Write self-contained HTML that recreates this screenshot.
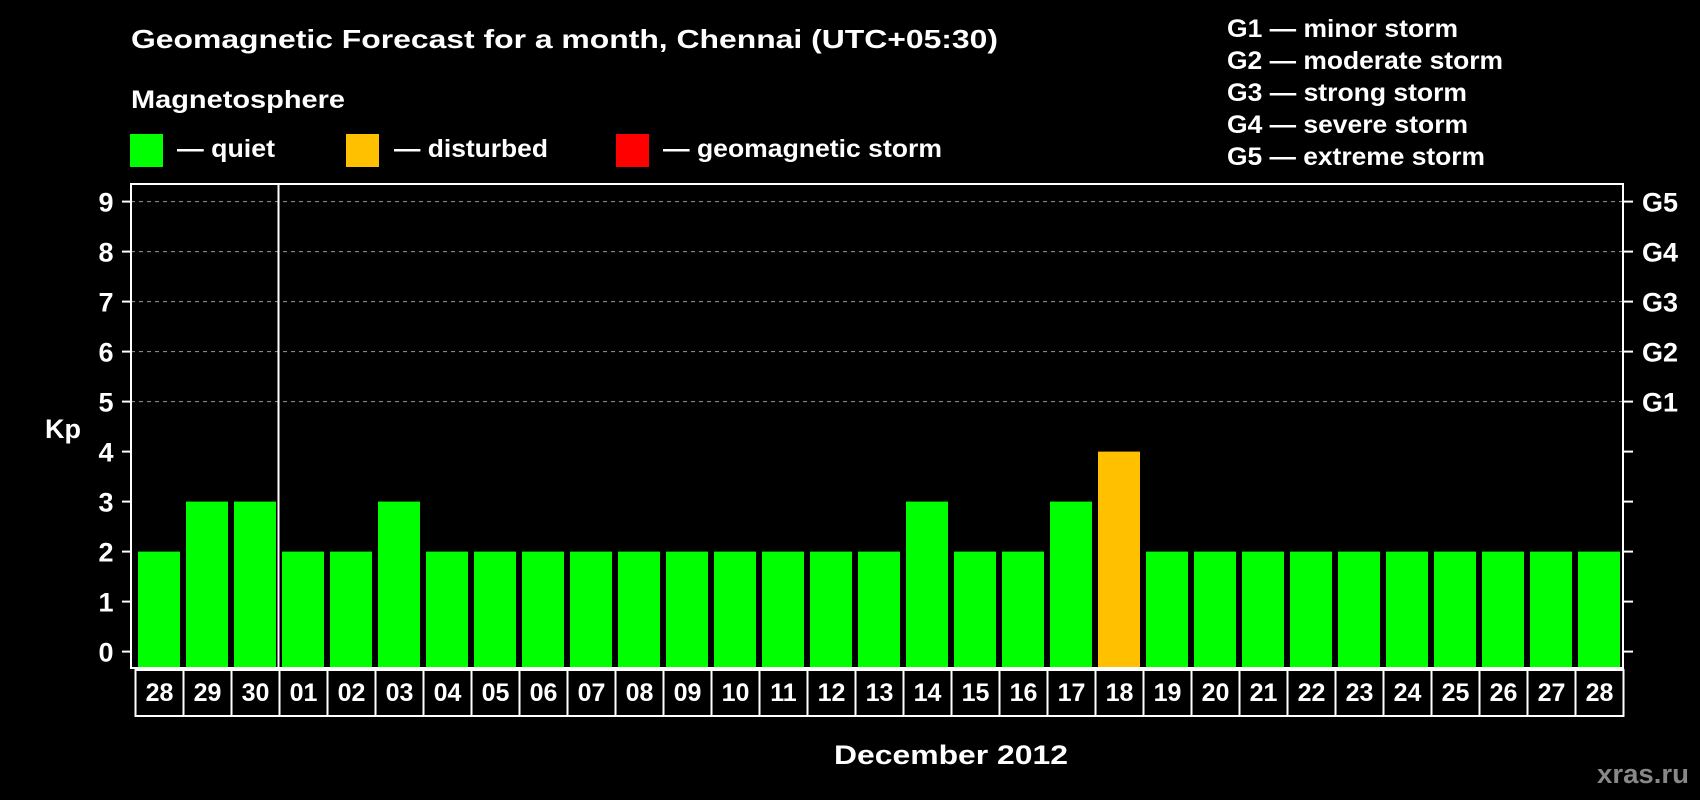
<!DOCTYPE html>
<html><head><meta charset="utf-8"><style>
html,body{margin:0;padding:0;background:#000;}
svg{display:block;font-family:"Liberation Sans",Arial,sans-serif;font-weight:bold;}
</style></head><body>
<svg id="chart" width="1700" height="800" viewBox="0 0 1700 800">
<text x="131" y="48" fill="#fff" font-size="26" textLength="867" lengthAdjust="spacingAndGlyphs">Geomagnetic Forecast for a month, Chennai (UTC+05:30)</text>
<text x="131" y="108" fill="#fff" font-size="25" textLength="214" lengthAdjust="spacingAndGlyphs">Magnetosphere</text>
<g><rect x="130" y="134" width="33" height="33" fill="#00ff00"/><text x="177" y="157" fill="#fff" font-size="25" textLength="98" lengthAdjust="spacingAndGlyphs">— quiet</text></g>
<g><rect x="346" y="134" width="33" height="33" fill="#ffc000"/><text x="394" y="157" fill="#fff" font-size="25" textLength="154" lengthAdjust="spacingAndGlyphs">— disturbed</text></g>
<g><rect x="616" y="134" width="33" height="33" fill="#ff0000"/><text x="663" y="157" fill="#fff" font-size="25" textLength="279" lengthAdjust="spacingAndGlyphs">— geomagnetic storm</text></g>
<g fill="#fff" font-size="25">
<text x="1227" y="37" textLength="231" lengthAdjust="spacingAndGlyphs">G1 — minor storm</text>
<text x="1227" y="69" textLength="276" lengthAdjust="spacingAndGlyphs">G2 — moderate storm</text>
<text x="1227" y="101" textLength="240" lengthAdjust="spacingAndGlyphs">G3 — strong storm</text>
<text x="1227" y="133" textLength="241" lengthAdjust="spacingAndGlyphs">G4 — severe storm</text>
<text x="1227" y="165" textLength="258" lengthAdjust="spacingAndGlyphs">G5 — extreme storm</text>
</g>
<g id="grid"></g>
<g id="bars"></g>
<rect x="131" y="184" width="1492" height="484" fill="none" stroke="#fff" stroke-width="2"/>
<line x1="278.5" y1="184" x2="278.5" y2="668" stroke="#fff" stroke-width="2"/>
<g id="yaxis"></g>
<g id="xaxis"></g>
<text x="63" y="438" fill="#fff" font-size="27" text-anchor="middle">Kp</text>
<text x="951" y="764" fill="#fff" font-size="27" text-anchor="middle" textLength="234" lengthAdjust="spacingAndGlyphs">December 2012</text>
<text x="1597" y="783" fill="#888" font-size="27" textLength="92" lengthAdjust="spacingAndGlyphs">xras.ru</text>
</svg>
<script>
const days = ["28","29","30","01","02","03","04","05","06","07","08","09","10","11","12","13","14","15","16","17","18","19","20","21","22","23","24","25","26","27","28"];
const kpValues = [2,3,3,2,2,3,2,2,2,2,2,2,2,2,2,2,3,2,2,3,4,2,2,2,2,2,2,2,2,2,2];
const yTicks = [0,1,2,3,4,5,6,7,8,9];
const gLabels = ["G1","G2","G3","G4","G5"];
const NS="http://www.w3.org/2000/svg";
const x0=135.5, pitch=48, yZero=651.6, unit=50.0, plotBottom=668;
const yS=v=>yZero-v*unit;
const xS=i=>x0+i*pitch;
function mk(t,a){const e=document.createElementNS(NS,t);for(const k in a)e.setAttribute(k,a[k]);return e;}
const grid=document.getElementById('grid'),bars=document.getElementById('bars'),ya=document.getElementById('yaxis'),xa=document.getElementById('xaxis');
yTicks.forEach(v=>{
  const y=yS(v);
  if(v>=5){const l=mk('line',{x1:131,x2:1623,y1:y,y2:y,stroke:'#999','stroke-width':1,'stroke-dasharray':'4,4'});
  
  grid.appendChild(l);}
  const t1=mk('line',{x1:122,x2:131,y1:y,y2:y,stroke:'#fff','stroke-width':2});
  
  ya.appendChild(t1);
  const t2=mk('line',{x1:1623,x2:1633,y1:y,y2:y,stroke:'#fff','stroke-width':2});
  
  ya.appendChild(t2);
  const tx=mk('text',{x:106,y:y+10,fill:'#fff','font-size':27,'text-anchor':'middle'});tx.textContent=v;
  
  ya.appendChild(tx);
  if(v>=5){const g=mk('text',{x:1642,y:y+10,fill:'#fff','font-size':27});g.textContent=gLabels[v-5];
  
  ya.appendChild(g);}
});
kpValues.forEach((v,i)=>{
  const c=v>=5?'#ff0000':(v>=4?'#ffc000':'#00ff00');
  const r=mk('rect',{x:xS(i)+2.5,y:yS(v),width:42,height:plotBottom-1-yS(v),fill:c});
  
  bars.appendChild(r);
});
days.forEach((d,i)=>{
  const b=mk('rect',{x:xS(i),y:670,width:pitch,height:46,fill:'none',stroke:'#fff','stroke-width':2});
  
  xa.appendChild(b);
  const t=mk('text',{x:xS(i)+pitch/2,y:701,fill:'#fff','font-size':25,'text-anchor':'middle'});t.textContent=d;
  
  xa.appendChild(t);
});
</script>
</body></html>
